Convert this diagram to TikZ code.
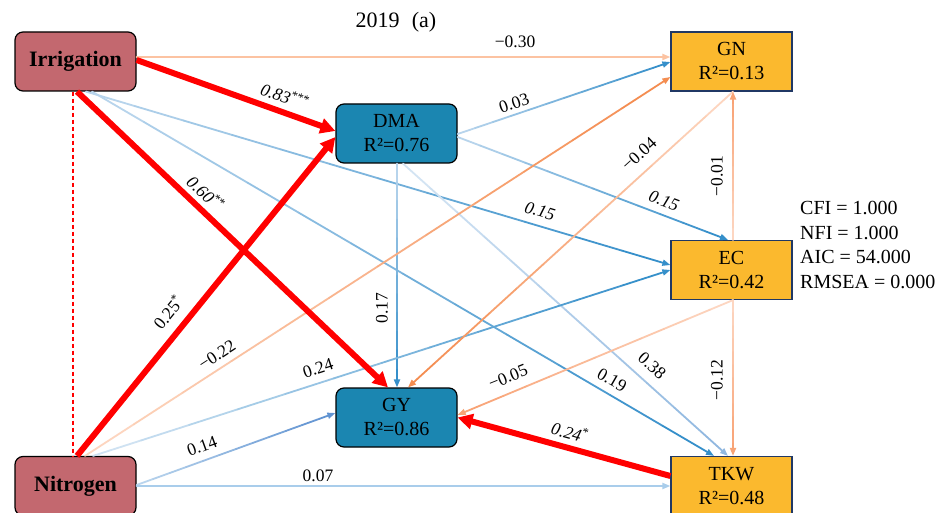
\documentclass[tikz,border=0pt]{standalone}
\usepackage{fontspec}
\setmainfont{Liberation Serif}
\usetikzlibrary{arrows.meta,calc}
\definecolor{rose}{HTML}{C3686F}
\definecolor{tealbox}{HTML}{1B86B1}
\definecolor{amber}{HTML}{FBB92E}
\definecolor{navy}{HTML}{203864}
\definecolor{pkred}{HTML}{FF0000}
\definecolor{vlblue}{HTML}{D6E6F4}
\definecolor{lblue}{HTML}{BDD7EE}
\definecolor{mblue}{HTML}{A9CDEB}
\definecolor{sblue}{HTML}{8DB6DF}
\definecolor{dblue}{HTML}{2E8BC8}
\definecolor{pblue}{HTML}{5B8FD0}
\definecolor{peach}{HTML}{FDD8C4}
\definecolor{peach2}{HTML}{FCC3A2}
\definecolor{lorange}{HTML}{F8A071}
\definecolor{dorange}{HTML}{F4894B}
\tikzset{
  rbox/.style={draw=black, line width=1.2pt, rounded corners=8pt, minimum width=121pt, minimum height=59pt, inner sep=0pt, align=center},
  exobox/.style={rbox, fill=rose, font=\fontsize{22}{24}\selectfont\bfseries},
  medbox/.style={rbox, fill=tealbox, font=\fontsize{20}{24}\selectfont},
  outbox/.style={draw=navy, line width=1.2pt, fill=amber, minimum width=121pt, minimum height=59pt, inner sep=0pt, align=center, font=\fontsize{20}{24}\selectfont},
  lab/.style={inner sep=0pt, font=\fontsize{17.5}{18}\selectfont},
  gseg/.style={line width=1.8pt},
  redarr/.style={draw=pkred, line width=6pt, -{Triangle[length=15pt,width=15pt]}},
}
\newcommand\gl[4]{%
  \foreach \i in {0,...,11}{%
    \pgfmathsetmacro\ta{\i/12}%
    \pgfmathsetmacro\tb{(\i+1)/12}%
    \pgfmathtruncatemacro\pc{100*(\i+0.5)/12}%
    \ifnum\i<11\relax
      \draw[gseg, line cap=round, draw=#4!\pc!#3] ($(#1)!\ta!(#2)$) -- ($(#1)!\tb!(#2)$);%
    \else
      \draw[gseg, draw=#4!\pc!#3, -{Triangle[length=8pt,width=6pt]}] ($(#1)!\ta!(#2)$) -- ($(#1)!\tb!(#2)$);%
    \fi}%
}
\begin{document}
\begin{tikzpicture}[x=1pt,y=-1pt]
\useasboundingbox (0,0) rectangle (947,513);
\fill[white] (0,0) rectangle (947,513);

% nodes
\node[exobox] (irr) at (75.5,61.5) {Irrigation};
\node[exobox] (nit) at (75.5,486) {Nitrogen};
\node[medbox] (dma) at (396.5,133.5) {DMA\\R²=0.76};
\node[medbox] (gy)  at (396.5,417.5) {GY\\R²=0.86};
\node[outbox] (gn)  at (731.5,61.5) {GN\\R²=0.13};
\node[outbox] (ec)  at (731.5,270) {EC\\R²=0.42};
\node[outbox] (tkw) at (731.5,486) {TKW\\R²=0.48};

\node[inner sep=0pt, font=\fontsize{22}{24}\selectfont] (title) at (396,22) {2019\hspace{0.55em}(a)};
\node[inner sep=0pt, anchor=west, align=left, font=\fontsize{20}{24.5}\selectfont] (fit) at (800,245) {CFI = 1.000\\NFI = 1.000\\AIC = 54.000\\RMSEA = 0.000};

% endpoints
\coordinate (s1) at ($(irr.east)+(0,-4.5)$);   \coordinate (e1) at ($(gn.west)+(0,-4.5)$);
\coordinate (s2) at ($(irr.east)+(0,-1.5)$);   \coordinate (e2) at ($(dma.west)+(0,-2.5)$);
\coordinate (s3) at ($(irr.south)+(1.5,0)$);   \coordinate (e3) at ($(gy.north)+(-8.5,0)$);
\coordinate (s4) at ($(irr.south)+(10.5,0)$);  \coordinate (e4) at ($(ec.west)+(0,-5)$);
\coordinate (s5) at ($(irr.south)+(16.5,0)$);  \coordinate (e5) at ($(tkw.north)+(-17.5,0)$);
\coordinate (s6) at ($(irr.south)+(-2.5,0)$);  \coordinate (e6) at ($(nit.north)+(-2.5,0)$);
\coordinate (s7) at ($(dma.east)+(0,0.5)$);    \coordinate (e7) at ($(gn.west)+(0,0.5)$);
\coordinate (s8) at ($(dma.east)+(0,3.5)$);    \coordinate (e8) at ($(ec.north)+(-3.5,0)$);
\coordinate (s9) at ($(dma.south)+(0.5,0)$);   \coordinate (e9) at ($(gy.north)+(0.5,0)$);
\coordinate (s10) at ($(dma.south)+(6.5,0)$);  \coordinate (e10) at ($(tkw.north)+(-3.5,0)$);
\coordinate (s11) at ($(nit.north)+(1.5,0)$);  \coordinate (e11) at ($(dma.west)+(0,3.5)$);
\coordinate (s12) at ($(nit.north)+(9.5,0)$);  \coordinate (e12) at ($(gn.west)+(0,15.5)$);
\coordinate (s13) at ($(nit.north)+(17.5,0)$); \coordinate (e13) at (ec.west);
\coordinate (s14) at ($(nit.east)+(0,-1)$);    \coordinate (e14) at ($(gy.west)+(0,-4.5)$);
\coordinate (s15) at (nit.east);               \coordinate (e15) at (tkw.west);
\coordinate (s16) at ($(gn.south)+(1.5,0)$);   \coordinate (e16) at ($(gy.north)+(11.5,0)$);
\coordinate (s17) at ($(ec.north)+(1.5,0)$);   \coordinate (e17) at ($(gn.south)+(1.5,0)$);
\coordinate (s18) at ($(ec.south)+(1.5,0)$);   \coordinate (e18) at ($(gy.east)+(0,-2.5)$);
\coordinate (s19) at ($(ec.south)+(1.5,0)$);   \coordinate (e19) at ($(tkw.north)+(1.5,0)$);
\coordinate (s20) at ($(tkw.west)+(0,-10)$);   \coordinate (e20) at (gy.east);

% thin gradient paths
\gl{s1}{e1}{peach2}{peach2}
\gl{s4}{e4}{lblue}{dblue}
\gl{s5}{e5}{lblue}{dblue}
\gl{s7}{e7}{lblue}{dblue}
\gl{s8}{e8}{lblue}{dblue}
\gl{s9}{e9}{lblue}{dblue}
\gl{s10}{e10}{vlblue}{sblue}
\gl{s12}{e12}{peach}{dorange}
\gl{s13}{e13}{vlblue}{dblue}
\gl{s14}{e14}{lblue}{pblue}
\gl{s15}{e15}{mblue}{mblue}
\gl{s16}{e16}{peach}{dorange}
\gl{s17}{e17}{peach}{lorange}
\gl{s18}{e18}{peach}{lorange}
\gl{s19}{e19}{peach}{lorange}

% correlation
\draw[draw=pkred, line width=1.2pt, dash pattern=on 4pt off 3pt] (s6) -- (e6);

% strong paths
\draw[redarr] (s2) -- (e2);
\draw[redarr] (s3) -- (e3);
\draw[redarr] (s11) -- (e11);
\draw[redarr] (s20) -- (e20);

% labels
\node[lab] (l1) at (515,42) {−0.30};
\node[lab, rotate=-19.6] (l2) at (285,96) {\textit{0.83}\textsuperscript{***}};
\node[lab, rotate=-43.7] (l3) at (206,193) {\textit{0.60}\textsuperscript{**}};
\node[lab, rotate=-16.6] (l4) at (540,211) {\textit{0.15}};
\node[lab, rotate=-30] (l5) at (612,380) {0.19};
\node[lab, rotate=18.6] (l6) at (514,103) {0.03};
\node[lab, rotate=-21] (l7) at (664,201) {\textit{0.15}};
\node[lab, rotate=90] (l8) at (382,308) {0.17};
\node[lab, rotate=-42] (l9) at (652,366) {0.38};
\node[lab, rotate=51] (l10) at (168,312) {0.25\textsuperscript{*}};
\node[lab, rotate=33] (l11) at (217,355) {−0.22};
\node[lab, rotate=18] (l12) at (318,368) {0.24};
\node[lab, rotate=20] (l13) at (202,446) {0.14};
\node[lab] (l14) at (318,476) {0.07};
\node[lab, rotate=42.5] (l15) at (639,154) {−0.04};
\node[lab, rotate=90] (l16) at (717,176) {−0.01};
\node[lab, rotate=22] (l17) at (508,377) {−0.05};
\node[lab, rotate=90] (l18) at (717,380) {−0.12};
\node[lab, rotate=-15.7] (l19) at (570,432) {\textit{0.24}\textsuperscript{*}};
\end{tikzpicture}
\end{document}
